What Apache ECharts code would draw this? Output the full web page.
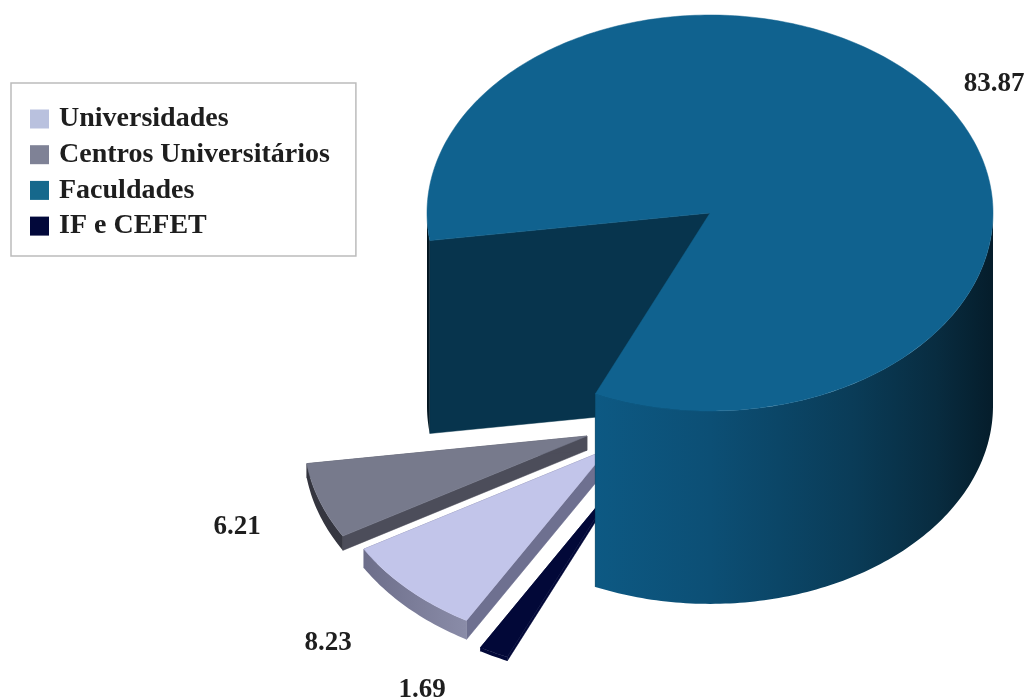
<!DOCTYPE html>
<html><head><meta charset="utf-8">
<style>html,body{margin:0;padding:0;background:#fff}#c{width:1028px;height:700px}</style>
<script src="https://cdn.jsdelivr.net/npm/echarts@6/dist/echarts.min.js"></script>
</head><body><div id="c"></div>
<script>
const categories = ['Universidades', 'Centros Universitários', 'Faculdades', 'IF e CEFET'];
const shares = [8.23, 6.21, 83.87, 1.69];
const drawOrder = [1, 0, 3, 2];

const startAngle = 120, rx = 283, ry = 198, depthPerUnit = 2.3;
const serif = '"Liberation Serif", serif';
const slicesLayout = [
  {cx: 608, cy: 449, label: [328, 643]},
  {cx: 587, cy: 436, label: [237, 527]},
  {cx: 710, cy: 213, label: [994, 84]},
  {cx: 622, cy: 476, label: [422, 690]}
];
const legendColors = ['#b9c1de', '#7f8296', '#15688c', '#02083a'];
const topColors = ['#c2c5ea', '#777a8c', '#10628f', '#020838'];
const wallColors = ['#6e7090', '#4c4d5a', '#07344d', '#020838'];
const outerStops = [
  [['0', '#62637f'], ['0.25', '#8a8ca8'], ['1', '#8a8ca8']],
  [['0', '#34353f'], ['1', '#4c4d5a']],
  [['0', '#03131c'], ['0.015', '#07344d'], ['0.3', '#0d5983'], ['0.5', '#0c4f75'], ['0.75', '#0a3c58'], ['0.9', '#082c40'], ['1', '#051d2b']],
  [['0', '#020838'], ['1', '#020838']]
];

const total = shares.reduce((a, b) => a + b, 0);
const starts = [];
shares.reduce((acc, v, i) => { starts[i] = acc; return acc + v / total * 360; }, startAngle);

function pt(l, deg, dy) {
  const r = deg * Math.PI / 180;
  return [l.cx + rx * Math.cos(r), l.cy + ry * Math.sin(r) + (dy || 0)];
}
function arc(l, a, b, dy) {
  const out = [], n = Math.max(2, Math.ceil(Math.abs(b - a)));
  for (let i = 0; i <= n; i++) out.push(pt(l, a + (b - a) * i / n, dy));
  return out;
}
function renderSlice(i) {
  return function (params, api) {
    const value = api.value(0), depth = value * depthPerUnit;
    const l = slicesLayout[i], s = starts[i], e = s + value / total * 360;
    const c = [l.cx, l.cy], cb = [l.cx, l.cy + depth];
    const children = [];
    [s, e].forEach(a => {
      children.push({type: 'polygon', silent: true,
        shape: {points: [c, pt(l, a), pt(l, a, depth), cb]},
        style: {fill: wallColors[i], stroke: wallColors[i], lineWidth: 0.5}});
    });
    const grad = new echarts.graphic.LinearGradient(l.cx - rx, 0, l.cx + rx, 0,
      outerStops[i].map(p => ({offset: +p[0], color: p[1]})), true);
    [[0, 180], [360, 540]].forEach(w => {
      const a = Math.max(s, w[0]), b = Math.min(e, w[1]);
      if (b > a) {
        children.push({type: 'polygon', silent: true,
          shape: {points: arc(l, a, b, 0).concat(arc(l, b, a, depth))},
          style: {fill: grad}});
      }
    });
    children.push({type: 'polygon', silent: true,
      shape: {points: [c].concat(arc(l, s, e, 0))},
      style: {fill: topColors[i], stroke: topColors[i], lineWidth: 0.5}});
    children.push({type: 'text', silent: true, x: l.label[0], y: l.label[1],
      style: {text: value.toFixed(2), fill: '#1e1e1e', font: 'bold 27px ' + serif, align: 'center', verticalAlign: 'middle'}});
    return {type: 'group', children};
  };
}

const chart = echarts.init(document.getElementById('c'), null, {renderer: 'canvas'});
chart.setOption({
  animation: false,
  backgroundColor: '#ffffff',
  legend: {
    data: categories.map((n, i) => ({name: n, itemStyle: {color: legendColors[i]}})),
    orient: 'vertical', left: 11, top: 83, icon: 'rect',
    itemWidth: 19, itemHeight: 19, itemGap: 7.7,
    padding: [22, 26, 16, 19],
    borderColor: '#bcbcbc', borderWidth: 1.5, backgroundColor: '#fff',
    selectedMode: false,
    textStyle: {fontFamily: serif, fontWeight: 'bold', fontSize: 28, color: '#1e1e1e', padding: [0, 0, 0, 5], lineHeight: 24}
  },
  series: drawOrder.map((i, k) => ({
    type: 'custom', name: categories[i], coordinateSystem: 'none', z: 2 + k,
    itemStyle: {color: legendColors[i]},
    data: [[shares[i]]],
    renderItem: renderSlice(i)
  }))
});
</script></body></html>
